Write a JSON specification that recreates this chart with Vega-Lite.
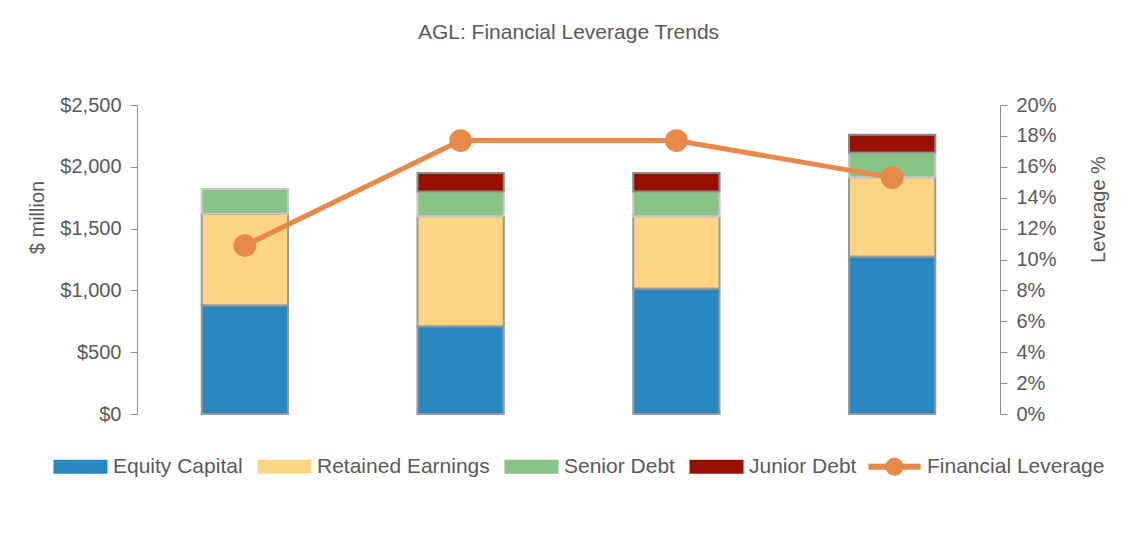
{
  "$schema": "https://vega.github.io/schema/vega-lite/v6.json",
  "width": 863,
  "height": 309,
  "autosize": {"type": "none"},
  "padding": {"left": 137, "top": 105, "right": 137, "bottom": 121},
  "background": "white",
  "title": {"text": "AGL: Financial Leverage Trends", "fontSize": 21, "font": "Liberation Sans", "fontWeight": "normal", "color": "#595959", "anchor": "middle", "frame": "group", "offset": 52},
  "config": {
    "font": "Liberation Sans",
    "view": {"stroke": null},
    "axis": {"labelFont": "Liberation Sans", "labelFontSize": 20, "labelColor": "#595959", "titleFont": "Liberation Sans", "titleFontSize": 20, "titleFontWeight": "normal", "titleColor": "#595959", "domainColor": "#8c8c8c", "tickColor": "#8c8c8c", "grid": false, "tickSize": 7, "labelPadding": 9}
  },
  "datasets": {
    "capital": [
      {"period": "P1", "series": "Equity Capital", "value": 880},
      {"period": "P1", "series": "Retained Earnings", "value": 740},
      {"period": "P1", "series": "Senior Debt", "value": 200},
      {"period": "P2", "series": "Equity Capital", "value": 710},
      {"period": "P2", "series": "Retained Earnings", "value": 890},
      {"period": "P2", "series": "Senior Debt", "value": 200},
      {"period": "P2", "series": "Junior Debt", "value": 150},
      {"period": "P3", "series": "Equity Capital", "value": 1015},
      {"period": "P3", "series": "Retained Earnings", "value": 585},
      {"period": "P3", "series": "Senior Debt", "value": 200},
      {"period": "P3", "series": "Junior Debt", "value": 150},
      {"period": "P4", "series": "Equity Capital", "value": 1275},
      {"period": "P4", "series": "Retained Earnings", "value": 640},
      {"period": "P4", "series": "Senior Debt", "value": 200},
      {"period": "P4", "series": "Junior Debt", "value": 145}
    ],
    "leverage": [
      {"period": "P1", "leverage": 0.109},
      {"period": "P2", "leverage": 0.177},
      {"period": "P3", "leverage": 0.177},
      {"period": "P4", "leverage": 0.153}
    ]
  },
  "layer": [
    {
      "data": {"name": "capital"},
      "transform": [
        {"calculate": "indexof(['Equity Capital','Retained Earnings','Senior Debt','Junior Debt'], datum.series)", "as": "ord"}
      ],
      "mark": {"type": "bar", "strokeWidth": 2},
      "encoding": {
        "x": {"field": "period", "type": "nominal", "scale": {"paddingInner": 0.6, "paddingOuter": 0.3}, "axis": {"labels": false, "title": null, "tickBand": "extent", "tickSize": 6}},
        "y": {"field": "value", "type": "quantitative", "stack": "zero", "scale": {"domain": [0, 2500]}, "axis": {"title": "$ million", "format": "$,.0f", "values": [0, 500, 1000, 1500, 2000, 2500], "titlePadding": 12, "titleY": 112}},
        "color": {
          "field": "series", "type": "nominal",
          "scale": {"domain": ["Equity Capital", "Retained Earnings", "Senior Debt", "Junior Debt", "Financial Leverage"], "range": ["#2A88C0", "#FED584", "#88C486", "#981000", "#E8894A"]},
          "legend": {
            "title": null, "orient": "none", "legendX": -67, "legendY": 351, "direction": "horizontal",
            "labelFont": "Liberation Sans", "labelFontSize": 21, "labelColor": "#595959", "labelOffset": 22, "labelLimit": 400,
            "columnPadding": 11, "symbolSize": 2704, "symbolStrokeWidth": 2, "symbolStrokeColor": "#999999",
            "encode": {
              "symbols": {
                "update": {
                  "shape": {"signal": "datum.value === 'Financial Leverage' ? 'M-1,-0.115H1V0.115H-1Z M-0.346,0 A0.346,0.346 0 1,1 0.346,0 A0.346,0.346 0 1,1 -0.346,0Z' : 'M-1,-0.23H1V0.23H-1Z'"},
                  "fill": {"scale": "color", "field": "value"},
                  "fillOpacity": {"value": 1},
                  "stroke": {"signal": "datum.value === 'Financial Leverage' ? '#E8894A' : (datum.value === 'Senior Debt' ? '#c8c8c8' : '#999999')"},
                  "strokeOpacity": {"value": 1},
                  "strokeWidth": {"signal": "datum.value === 'Financial Leverage' ? 0.1 : 2"},
                  "opacity": {"value": 1}
                }
              }
            }
          }
        },
        "stroke": {
          "field": "series", "type": "nominal",
          "scale": {"domain": ["Equity Capital", "Retained Earnings", "Senior Debt", "Junior Debt"], "range": ["#999999", "#999999", "#c8c8c8", "#8c8c8c"]},
          "legend": null
        },
        "order": {"field": "ord", "type": "quantitative"}
      }
    },
    {
      "data": {"name": "leverage"},
      "encoding": {
        "x": {"field": "period", "type": "nominal", "axis": null},
        "y": {"field": "leverage", "type": "quantitative", "scale": {"domain": [0, 0.2]}, "axis": {"orient": "right", "title": "Leverage %", "format": ".0%", "values": [0, 0.02, 0.04, 0.06, 0.08, 0.1, 0.12, 0.14, 0.16, 0.18, 0.2], "titleAngle": 270, "titlePadding": 52, "titleY": 104}},
        "color": {"datum": "Financial Leverage"}
      },
      "layer": [
        {"mark": {"type": "line", "strokeWidth": 5}},
        {"mark": {"type": "point", "filled": true, "size": 520, "opacity": 1}}
      ]
    }
  ],
  "resolve": {"scale": {"y": "independent"}}
}
